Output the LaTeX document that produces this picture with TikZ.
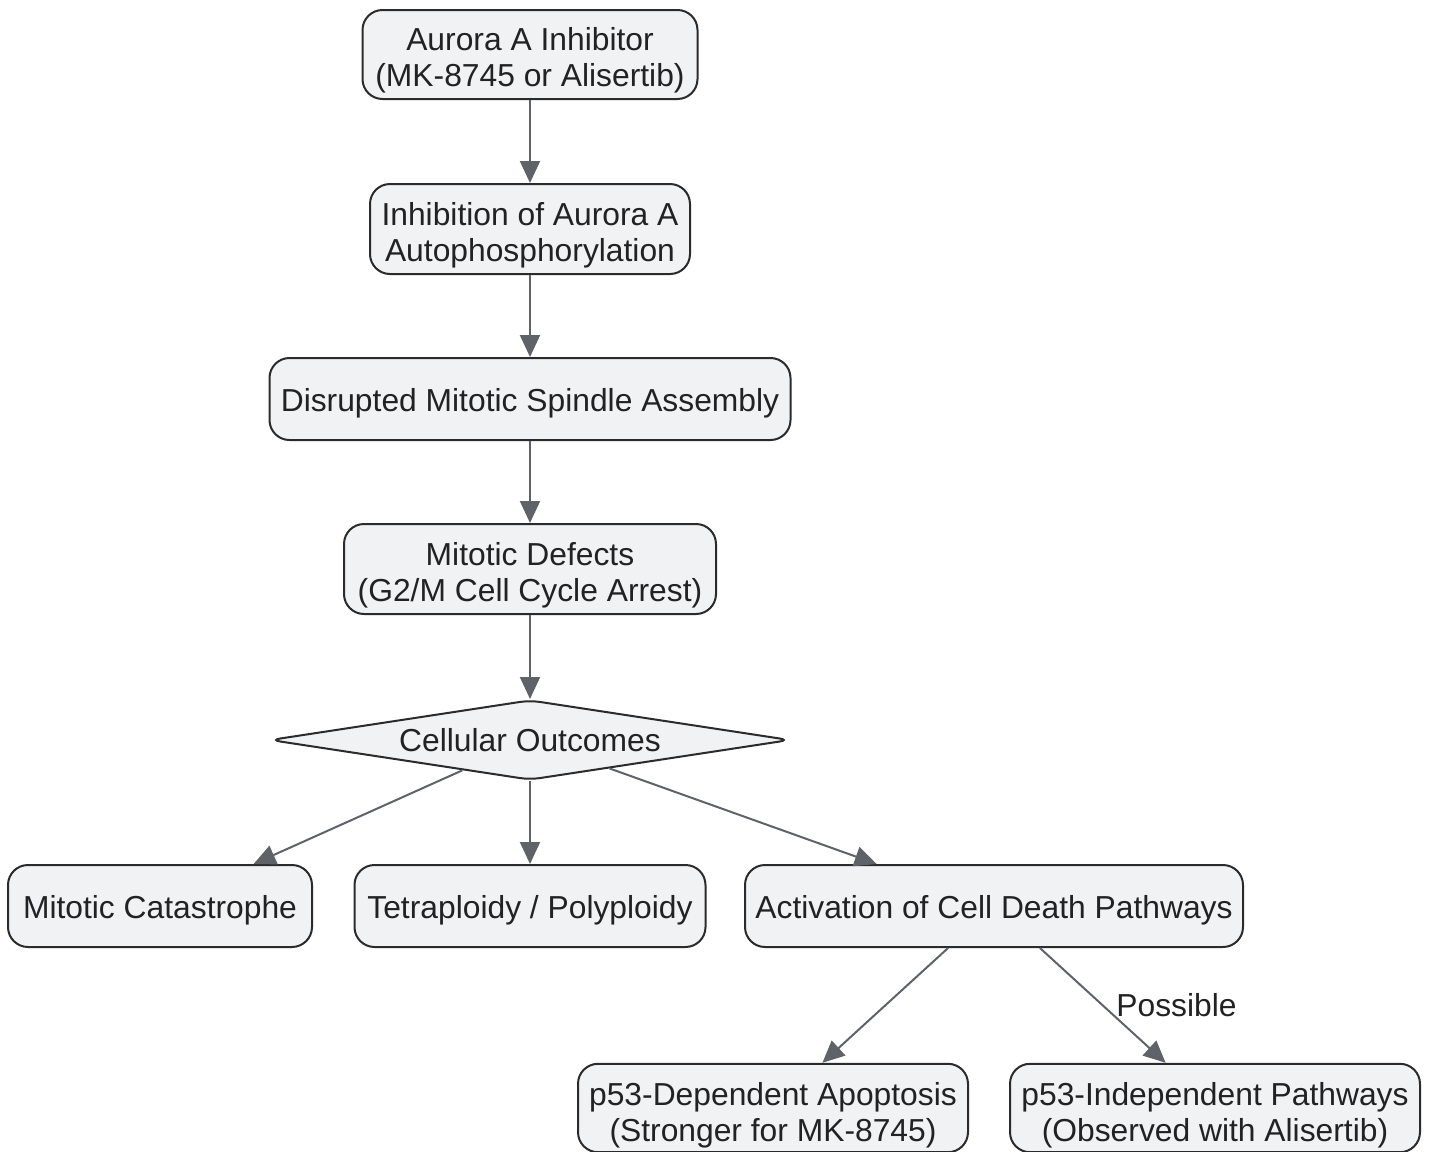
\documentclass[tikz,border=0pt]{standalone}
\usepackage{fontspec}
\setmainfont{Liberation Sans}
\usepackage{tikz}
\usetikzlibrary{arrows.meta,shapes.geometric}

\definecolor{boxfill}{HTML}{F1F2F4}
\definecolor{boxline}{HTML}{2B2B2B}
\definecolor{arrowgray}{HTML}{5F6368}
\definecolor{textdark}{HTML}{222222}

\newcommand{\linetop}[1]{\rule[-0.212em]{0pt}{\dimexpr1.117em+#1\relax}}

\begin{document}
\begin{tikzpicture}[->,>={Triangle[length=11pt,width=10pt]},x=0.5pt,y=-0.5pt,
        font=\fontsize{15.9}{18}\selectfont,
        box/.style={draw=boxline,fill=boxfill,line width=1pt,rounded corners=10pt,
          align=center,text=textdark,inner sep=2pt},
        decision/.style={diamond,draw=boxline,fill=boxfill,line width=1pt,rounded corners=5pt,
          shape aspect=6.5,inner sep=0pt,text=textdark,minimum width=260pt,minimum height=40pt},
        every edge/.style={draw=arrowgray,line width=1pt}]

  \useasboundingbox (0,0) rectangle (1431,1152);

  \node[box,minimum width=167.5pt,minimum height=44.5pt] (inhib) at (530,54.5)
    {\linetop{3pt}Aurora A Inhibitor\\(MK-8745 or Alisertib)};
  \node[box,minimum width=160pt,minimum height=45pt] (autoph) at (530,229)
    {\linetop{3pt}Inhibition of Aurora A\\Autophosphorylation};
  \node[box,minimum width=260.5pt,minimum height=41pt] (spindle) at (530,399)
    {\linetop{1.5pt}Disrupted Mitotic Spindle Assembly};
  \node[box,minimum width=186pt,minimum height=45pt] (defects) at (530,569)
    {\linetop{3pt}Mitotic Defects\\(G2/M Cell Cycle Arrest)};
  \node[decision] (outcome) at (530,740) {\linetop{0pt}Cellular Outcomes};

  \node[box,minimum width=152pt,minimum height=41pt] (catast) at (160,906)
    {\linetop{1.5pt}Mitotic Catastrophe};
  \node[box,minimum width=175.5pt,minimum height=41pt] (ploidy) at (530,906)
    {\linetop{1.5pt}Tetraploidy / Polyploidy};
  \node[box,minimum width=249pt,minimum height=41pt] (death) at (994,906)
    {\linetop{1.5pt}Activation of Cell Death Pathways};

  \node[box,minimum width=195pt,minimum height=44pt] (depapo) at (773,1108)
    {\linetop{4.5pt}p53-Dependent Apoptosis\\(Stronger for MK-8745)};
  \node[box,minimum width=205pt,minimum height=44pt] (indep) at (1215,1108)
    {\linetop{4.5pt}p53-Independent Pathways\\(Observed with Alisertib)};

  \path (inhib) edge (autoph)
        (autoph) edge (spindle)
        (spindle) edge (defects)
        (defects) edge (outcome)
        (outcome) edge (catast)
        (outcome) edge (ploidy)
        (outcome) edge (death)
        (death) edge (depapo)
        (death) edge node[right=3pt,text=textdark] {Possible} (indep);

\end{tikzpicture}
\end{document}
